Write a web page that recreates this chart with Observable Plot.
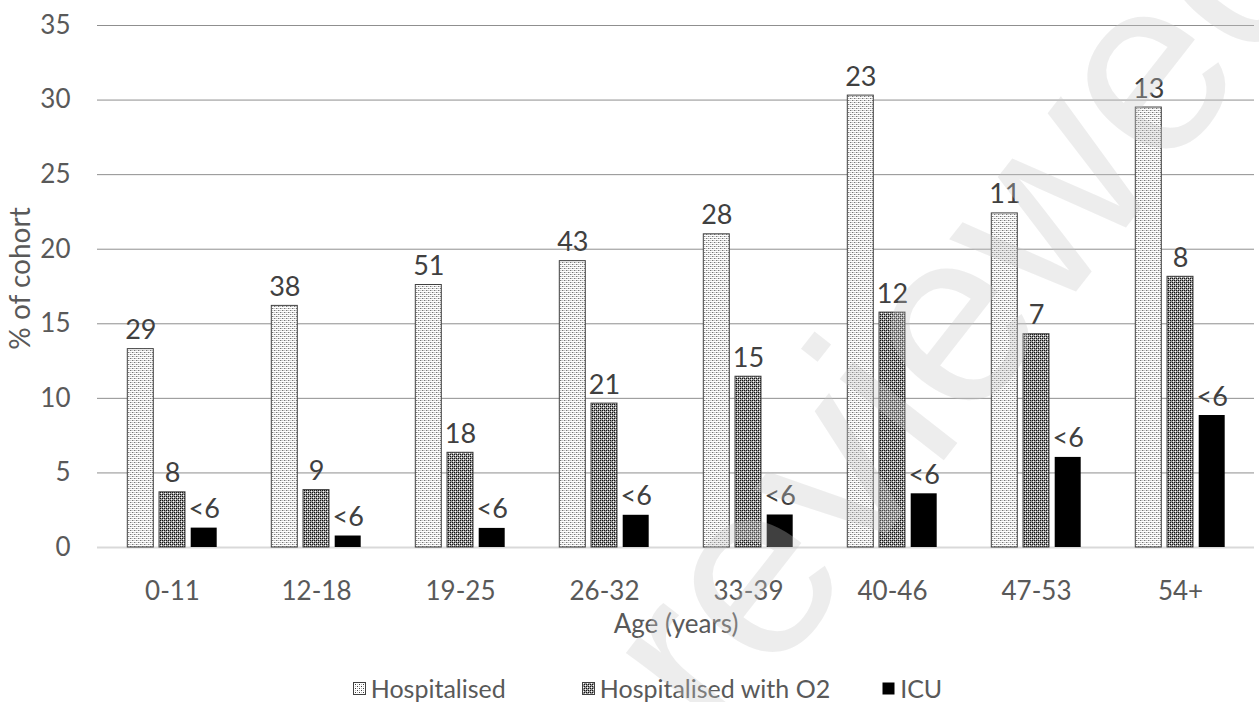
<!DOCTYPE html>
<html>
<head>
<meta charset="utf-8">
<script src="https://cdn.jsdelivr.net/npm/d3@7"></script>
<script src="https://cdn.jsdelivr.net/npm/@observablehq/plot@0.6"></script>
<style>
  html, body { margin: 0; padding: 0; background: #fff; }
  body { width: 1259px; height: 702px; position: relative; overflow: hidden; font-family: Lato, "Open Sans", sans-serif; }
  #chart svg { display: block; }
  #legend { display: flex; justify-content: center; align-items: center; height: 76px; padding-left: 36px; color: #595959; font-size: 25px; }
  #legend .item { display: flex; align-items: center; }
  #legend .item svg { margin-right: 5px; }
  #watermark { position: absolute; left: 960px; top: 300px; transform: translate(-50%, -50%) rotate(-52deg);
               font-family: "Liberation Sans", Arial, sans-serif; font-size: 250px; color: rgba(200,200,200,0.32);
               white-space: nowrap; pointer-events: none; line-height: 1; }
</style>
</head>
<body>
<div id="chart"></div>
<div id="legend"></div>
<div id="watermark">reviewed</div>
<script>
// Age bands and the share of each cohort (%) reaching each level of care
const ageGroups = ["0-11", "12-18", "19-25", "26-32", "33-39", "40-46", "47-53", "54+"];
const hospitalisedPct = [13.3, 16.2, 17.6, 19.2, 21.0, 30.3, 22.4, 29.5];
const oxygenPct = [3.7, 3.85, 6.35, 9.65, 11.45, 15.75, 14.3, 18.15];
const icuPct = [1.3, 0.77, 1.28, 2.16, 2.18, 3.6, 6.04, 8.85];

// Patient counts printed above the bars
const hospitalisedN = ["29", "38", "51", "43", "28", "23", "11", "13"];
const oxygenN = ["8", "9", "18", "21", "15", "12", "7", "8"];
const icuN = ["<6", "<6", "<6", "<6", "<6", "<6", "<6", "<6"];

const seriesNames = ["Hospitalised", "Hospitalised with O2", "ICU"];
const yTicks = [0, 5, 10, 15, 20, 25, 30, 35];

const rows = ageGroups.map((age, i) => ({
  age,
  hosp: hospitalisedPct[i], o2: oxygenPct[i], icu: icuPct[i],
  nHosp: hospitalisedN[i], nO2: oxygenN[i], nIcu: icuN[i]
}));

const step = 31.7;         // horizontal offset between bars of a group
const labelFont = 27;
const textColor = "#595959";

const chart = Plot.plot({
  width: 1259,
  height: 650,
  marginLeft: 97,
  marginRight: 5,
  marginTop: 25,
  marginBottom: 103,
  style: { fontFamily: "Lato, 'Open Sans', sans-serif", fontSize: "26px", color: textColor, background: "white", overflow: "visible" },
  x: { domain: ageGroups, paddingInner: 0.82, paddingOuter: 0.41, label: null },
  y: { domain: [0, 35], label: null },
  marks: [
    Plot.ruleY(yTicks.filter(d => d > 0), { stroke: "#8f8f8f", strokeWidth: 1 }),
    Plot.ruleY([0], { stroke: "#d9d9d9", strokeWidth: 2 }),
    Plot.barY(rows, { x: "age", y: "hosp", dx: -step, fill: "url(#pat-hosp)", stroke: "#404040", strokeWidth: 1 }),
    Plot.barY(rows, { x: "age", y: "o2", fill: "url(#pat-o2)", stroke: "#404040", strokeWidth: 1 }),
    Plot.barY(rows, { x: "age", y: "icu", dx: step, fill: "#000" }),
    Plot.text(rows, { x: "age", y: "hosp", dx: -step, dy: -10, text: "nHosp", lineAnchor: "bottom", fontSize: labelFont, fill: "#404040" }),
    Plot.text(rows, { x: "age", y: "o2", dy: -10, text: "nO2", lineAnchor: "bottom", fontSize: labelFont, fill: "#404040" }),
    Plot.text(rows, { x: "age", y: "icu", dx: step, dy: -10, text: "nIcu", lineAnchor: "bottom", fontSize: labelFont, fill: "#404040" }),
    Plot.axisY({ ticks: yTicks, tickSize: 0, tickPadding: 27, label: null, fill: textColor }),
    Plot.axisX({ tickSize: 0, tickPadding: 34, label: null, fill: textColor }),
    Plot.text(["% of cohort"], { frameAnchor: "left", textAnchor: "middle", rotate: -90, dx: -76, dy: -8, fontSize: 28, fill: textColor }),
    Plot.text(["Age (years)"], { frameAnchor: "bottom", dy: 85, fontSize: 26, fill: textColor })
  ]
});

// Fill patterns for the two hospitalisation series
const defs = d3.select(chart).insert("defs", ":first-child");
const hosp = defs.append("pattern").attr("id", "pat-hosp").attr("patternUnits", "userSpaceOnUse").attr("width", 4).attr("height", 4);
hosp.append("rect").attr("width", 4).attr("height", 4).attr("fill", "#fff");
[[0, 0, "#3c3c3c"], [2, 2, "#3c3c3c"], [2, 0, "#b4b4b4"], [0, 2, "#b4b4b4"]].forEach(([x, y, c]) =>
  hosp.append("rect").attr("x", x).attr("y", y).attr("width", 1).attr("height", 1).attr("fill", c));
const o2 = defs.append("pattern").attr("id", "pat-o2").attr("patternUnits", "userSpaceOnUse").attr("width", 4).attr("height", 4);
o2.append("rect").attr("width", 4).attr("height", 4).attr("fill", "#9a9a9a");
[[0, 0, "#111"], [2, 0, "#111"], [0, 2, "#111"], [2, 2, "#111"], [1, 1, "#fff"], [3, 3, "#fff"]].forEach(([x, y, c]) =>
  o2.append("rect").attr("x", x).attr("y", y).attr("width", 1).attr("height", 1).attr("fill", c));

document.getElementById("chart").appendChild(chart);

// Legend below the chart
const swatchFills = ["url(#pat-hosp)", "url(#pat-o2)", "#000"];
const gaps = [76, 52, 0];
const legend = d3.select("#legend");
seriesNames.forEach((name, i) => {
  const item = legend.append("div").attr("class", "item").style("margin-right", gaps[i] + "px");
  const sw = item.append("svg").attr("width", 13).attr("height", 13);
  sw.append("rect").attr("x", 0.5).attr("y", 0.5).attr("width", 12).attr("height", 12)
    .attr("fill", swatchFills[i]).attr("stroke", i < 2 ? "#404040" : "none");
  item.append("span").text(name);
});
</script>
</body>
</html>
